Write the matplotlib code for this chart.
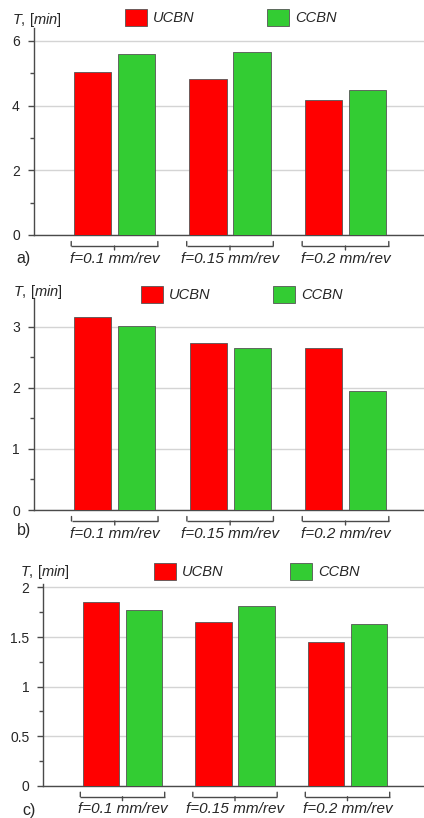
import matplotlib
matplotlib.use("Agg")
import matplotlib.pyplot as plt
import matplotlib.transforms as mtransforms
from matplotlib.patches import Patch
import numpy as np

plt.rcParams['font.family'] = ['Liberation Sans', 'DejaVu Sans']
plt.rcParams['mathtext.fontset'] = 'custom'
plt.rcParams['mathtext.it'] = 'Liberation Sans:italic'
plt.rcParams['mathtext.rm'] = 'Liberation Sans'

categories = ["f=0.1 mm/rev", "f=0.15 mm/rev", "f=0.2 mm/rev"]
series_names = ["UCBN", "CCBN"]
ucbn_a = [5.05, 4.81, 4.16]
ccbn_a = [5.60, 5.67, 4.47]
ucbn_b = [3.16, 2.73, 2.66]
ccbn_b = [3.02, 2.65, 1.95]
ucbn_c = [1.85, 1.65, 1.45]
ccbn_c = [1.77, 1.81, 1.63]
panel_letters = ["a)", "b)", "c)"]

RED = "#ff0000"
GREEN = "#33cc33"
EDGE = "#555555"
TXT = "#262626"
LINE = "#4a4a4a"

W, H = 424, 818
fig = plt.figure(figsize=(W / 100, H / 100), dpi=100)


def fx(px):
    return px / W


def fy(py):
    return 1 - py / H


panels = [
    dict(u=ucbn_a, c=ccbn_a, left=33.7, zero=235.0, top=28.0, ylim=(0, 6.4),
         major=[0, 2, 4, 6], minor=[1, 3, 5],
         xl=(-0.70, 2.68), leg=(125, 9, 5.0), tlab=(12, 20), letter=(16, 258)),
    dict(u=ucbn_b, c=ccbn_b, left=34.0, zero=510.0, top=298.3, ylim=(0, 3.47),
         major=[0, 1, 2, 3], minor=[0.5, 1.5, 2.5],
         xl=(-0.70, 2.68), leg=(141, 286, 4.3), tlab=(13, 292), letter=(17, 530)),
    dict(u=ucbn_c, c=ccbn_c, left=43.3, zero=785.7, top=584.0, ylim=(0, 2.035),
         major=[0, 0.5, 1, 1.5, 2], minor=[0.25, 0.75, 1.25, 1.75],
         xl=(-0.704, 2.68), leg=(154, 563, 4.6), tlab=(20, 572), letter=(22, 810)),
]

x = np.arange(len(categories))
bw = 0.322
off = 0.191
half = 0.375

for i, p in enumerate(panels):
    ax = fig.add_axes([fx(p['left']), fy(p['zero']), 1 - fx(p['left']),
                       (p['zero'] - p['top']) / H])
    ax.bar(x - off, p['u'], bw, color=RED, edgecolor=EDGE, linewidth=0.6, zorder=3)
    ax.bar(x + off, p['c'], bw, color=GREEN, edgecolor=EDGE, linewidth=0.6, zorder=3)
    ax.set_xlim(*p['xl'])
    ax.set_ylim(*p['ylim'])
    ax.set_yticks(p['major'])
    ax.set_yticklabels([f"{v:g}" for v in p['major']])
    ax.set_yticks(p['minor'], minor=True)
    ax.yaxis.grid(True, which='major', color='#d4d4d4', linewidth=1.0, zorder=0)
    ax.set_axisbelow(True)
    for s in ['top', 'right']:
        ax.spines[s].set_visible(False)
    for s in ['left', 'bottom']:
        ax.spines[s].set_color(LINE)
        ax.spines[s].set_linewidth(1.0)
    ax.tick_params(axis='y', which='major', length=4.5, width=1, color=LINE,
                   labelsize=10, labelcolor=TXT, pad=5.5)
    ax.tick_params(axis='y', which='minor', length=3, width=1, color=LINE)
    ax.set_xticks(x)
    ax.set_xticklabels(categories, fontstyle='italic', fontsize=11, color=TXT)
    ax.tick_params(axis='x', length=0, pad=12)

    def tr(dy_px):
        return ax.get_xaxis_transform() + mtransforms.ScaledTranslation(
            0, -dy_px / 100, fig.dpi_scale_trans)

    t_end, t_line, t_mid = tr(6.5), tr(11), tr(15)
    for xc in x:
        ax.plot([xc - half, xc + half], [0, 0], transform=t_line, color=LINE,
                lw=1, clip_on=False, solid_capstyle='butt')
        for xe in (xc - half, xc + half):
            ax.annotate('', xy=(xe, 0), xycoords=t_line, xytext=(xe, 0),
                        textcoords=t_end,
                        arrowprops=dict(arrowstyle='-', color=LINE, lw=1,
                                        shrinkA=0, shrinkB=0))
        ax.annotate('', xy=(xc, 0), xycoords=t_line, xytext=(xc, 0),
                    textcoords=t_mid,
                    arrowprops=dict(arrowstyle='-', color=LINE, lw=1,
                                    shrinkA=0, shrinkB=0))

    lx, ly, cs = p['leg']
    handles = [Patch(facecolor=RED, edgecolor=EDGE, linewidth=0.6),
               Patch(facecolor=GREEN, edgecolor=EDGE, linewidth=0.6)]
    leg = fig.legend(handles, series_names, loc='upper left',
                     bbox_to_anchor=(fx(lx), fy(ly)), bbox_transform=fig.transFigure,
                     ncol=2, frameon=False, borderpad=0, borderaxespad=0,
                     handlelength=1.5, handleheight=1.45, handletextpad=0.4,
                     columnspacing=cs, prop=dict(style='italic', size=10.5))
    for t in leg.get_texts():
        t.set_color(TXT)

    tx, ty = p['tlab']
    fig.text(fx(tx), fy(ty), r"$\mathit{T}$, [$\mathit{min}$]", fontsize=10.5,
             color=TXT, ha='left', va='center')
    lx2, ly2 = p['letter']
    fig.text(fx(lx2), fy(ly2), panel_letters[i], fontsize=11.5, color=TXT,
             ha='left', va='center')

fig.savefig("out.png", dpi=100)
